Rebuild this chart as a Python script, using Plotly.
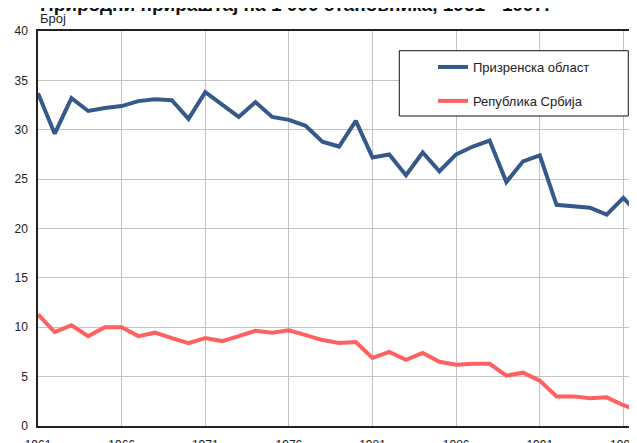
import plotly.graph_objects as go

years = list(range(1961, 1998))
prizren = [33.7, 29.6, 33.2, 31.9, 32.2, 32.4, 32.9, 33.1, 33.0, 31.1,
           33.8, 32.5, 31.3, 32.8, 31.3, 31.0, 30.4, 28.8, 28.3, 30.9,
           27.2, 27.5, 25.4, 27.7, 25.8, 27.5, 28.3, 28.9, 24.7, 26.8,
           27.4, 22.4, 22.2, 22.1, 21.4, 23.1, 21.3]
serbia = [11.3, 9.5, 10.2, 9.1, 10.0, 10.0, 9.1, 9.45, 8.9, 8.4,
          8.9, 8.6, 9.1, 9.65, 9.45, 9.7, 9.2, 8.7, 8.4, 8.5,
          6.9, 7.5, 6.7, 7.4, 6.5, 6.2, 6.3, 6.3, 5.1, 5.4,
          4.6, 3.0, 3.0, 2.8, 2.9, 2.1, 1.5]
series_names = ["Призренска област", "Република Србија"]
title_text = "Природни прираштај на 1 000 становника, 1961 - 1997."
y_label = "Број"

FONT = "Liberation Sans, Arial, sans-serif"

fig = go.Figure()
fig.add_trace(go.Scatter(x=years, y=prizren, mode="lines", name=series_names[0],
                         legendgroup="a",
                         line=dict(color="#35598a", width=4)))
fig.add_trace(go.Scatter(x=years, y=serbia, mode="lines", name=series_names[1],
                         legendgroup="b",
                         line=dict(color="#ff6060", width=4)))

fig.update_layout(
    width=637, height=443,
    margin=dict(l=30, r=0, t=23, b=25, pad=0, autoexpand=False),
    paper_bgcolor="white", plot_bgcolor="white",
    font=dict(family=FONT, size=12, color="#222"),
    showlegend=True,
    legend=dict(x=0.6507, y=0.9468, xanchor="left", yanchor="top",
                bgcolor="rgba(0,0,0,0)", borderwidth=0,
                font=dict(size=13, color="#222"),
                traceorder="grouped", tracegroupgap=14),
    xaxis=dict(range=[1961, 1997.29], tick0=1961, dtick=5, automargin=False,
               showgrid=True, gridcolor="#c4c4c4", gridwidth=1,
               showline=True, linecolor="#222", linewidth=1.5, mirror=True,
               zeroline=False, ticks="", ticklabelstandoff=7,
               tickfont=dict(size=12, color="#222")),
    yaxis=dict(range=[0, 40], tick0=0, dtick=5, automargin=False,
               showgrid=True, gridcolor="#c4c4c4", gridwidth=1,
               showline=True, linecolor="#222", linewidth=1.5, mirror=True,
               zeroline=False, ticks="", ticklabelstandoff=6,
               tickfont=dict(size=12, color="#222")),
    shapes=[dict(type="rect", xref="paper", yref="paper",
                 x0=0.5952, x1=0.9725, y0=0.7848, y1=0.9501,
                 line=dict(color="#111", width=1), fillcolor="white",
                 layer="above")],
    annotations=[
        dict(text="<b>" + title_text + "</b>", xref="paper", yref="paper",
             x=0, y=1.0662, xanchor="left", yanchor="middle", showarrow=False,
             font=dict(size=19, color="#111", family=FONT)),
        dict(text=y_label, xref="paper", yref="paper",
             x=0, y=1.0327, xanchor="left", yanchor="middle", showarrow=False,
             font=dict(size=13, color="#222", family=FONT)),
    ],
)

fig.write_html("out.html")
